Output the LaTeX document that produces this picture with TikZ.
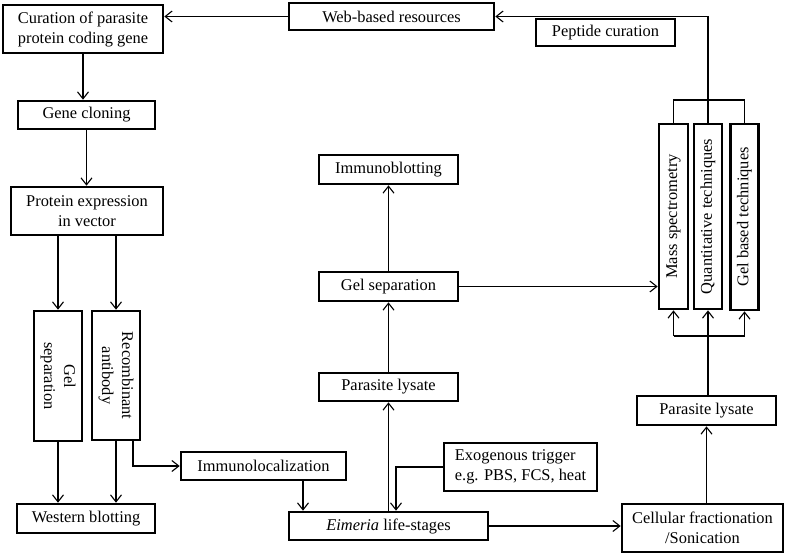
\documentclass[tikz,border=0pt]{standalone}
\usepackage{fontspec}
\setmainfont{Liberation Serif}
\usetikzlibrary{arrows.meta}
\begin{document}
\begin{tikzpicture}[x=1pt,y=-1pt,
  box/.style={draw,line width=2.6pt,inner sep=0pt,align=center,font=\fontsize{16.4}{20}\selectfont},
  lbox/.style={box,align=left},
  txt/.style={inner sep=0pt,align=center,font=\fontsize{16.4}{20}\selectfont},
  conn/.style={line width=1.1pt},
  arr/.style={conn,-{Straight Barb[length=7pt,width=11pt,line width=1.1pt]}}]
\useasboundingbox (0,0) rectangle (785,555);
% boxes
\node[box,minimum width=160,minimum height=48] (cur) at (83,29) {Curation of parasite\\protein coding gene};
\node[box,minimum width=205,minimum height=27] (web) at (391.5,16.5) {Web-based resources};
\node[box,minimum width=139,minimum height=27] (pep) at (605.5,32.5) {Peptide curation};
\node[box,minimum width=137,minimum height=28] (gene) at (86.5,115) {Gene cloning};
\node[box,minimum width=152,minimum height=48] (prot) at (87,211) {Protein expression\\in vector};
\node[box,minimum width=48,minimum height=130] (gsep) at (58,376) {};
\node[txt,rotate=-90] (gsept) at (gsep) {Gel\\separation};
\node[box,minimum width=48,minimum height=129] (rab) at (116,375.5) {};
\node[txt,rotate=-90] (rabt) at (rab) {Recombinant\\antibody};
\node[box,minimum width=138,minimum height=29] (wb) at (86,518.5) {Western blotting};
\node[box,minimum width=165,minimum height=28] (iloc) at (263.5,466) {Immunolocalization};
\node[box,minimum width=199,minimum height=28] (eim) at (388.5,526) {\textit{Eimeria} life-stages};
\node[lbox,minimum width=153,minimum height=48] (exo) at (520.5,467) {Exogenous trigger\\e.g. PBS, FCS, heat};
\node[box,minimum width=161,minimum height=48] (cell) at (702.5,528) {Cellular fractionation\\/Sonication};
\node[box,minimum width=139,minimum height=29] (pl2) at (706.5,410.5) {Parasite lysate};
\node[box,minimum width=139,minimum height=28] (pl1) at (388.5,387) {Parasite lysate};
\node[box,minimum width=139,minimum height=29] (gs1) at (388.5,286.5) {Gel separation};
\node[box,minimum width=139,minimum height=29] (ib) at (388.5,169.5) {Immunoblotting};
\node[box,minimum width=29,minimum height=185] (ms) at (673.5,216.5) {};
\node[txt,rotate=90] (mst) at (ms) {Mass spectrometry};
\node[box,minimum width=28,minimum height=185] (qt) at (708,216.5) {};
\node[txt,rotate=90] (qtt) at (qt) {Quantitative techniques};
\node[box,minimum width=28,minimum height=186] (gb) at (744.5,217) {};
\node[txt,rotate=90] (gbt) at (gb) {Gel based techniques};
% helper coordinates
\coordinate (tb) at (0,100);
\coordinate (bb) at (0,336);
\path ([xshift=17]rab.south) coordinate (r1);
\path ([xshift=39.5]iloc.south) coordinate (i1);
\path ([xshift=7.5]eim.north) coordinate (e1);
% connectors
\draw[arr] (web.west) -- (web.west -| cur.east);
\draw[arr] (qt.north) -- (qt.north |- web.east) -- (web.east);
\draw[conn] (ms.north) -- (ms.north |- tb) -- (gb.north |- tb) -- (gb.north);
\draw[arr] (cur.south) -- (cur.south |- gene.north);
\draw[arr] (gene.south) -- (gene.south |- prot.north);
\draw[arr] (gsep.north |- prot.south) -- (gsep.north);
\draw[arr] (rab.north |- prot.south) -- (rab.north);
\draw[arr] (gsep.south) -- (gsep.south |- wb.north);
\draw[arr] (rab.south) -- (rab.south |- wb.north);
\draw[arr] (r1) |- (iloc.west);
\draw[arr] (i1) -- (i1 |- eim.north);
\draw[arr] (eim.north) -- (pl1.south);
\draw[arr] (exo.west) -| (e1);
\draw[arr] (pl1.north) -- (gs1.south);
\draw[arr] (gs1.north) -- (ib.south);
\draw[arr] (gs1.east) -- (gs1.east -| ms.west);
\draw[arr] (eim.east) -- (eim.east -| cell.west);
\draw[arr] (pl2.south |- cell.north) -- (pl2.south);
\draw[arr] (qt.south |- pl2.north) -- (qt.south);
\draw[conn] (ms.south |- bb) -- (gb.south |- bb);
\draw[arr] (ms.south |- bb) -- (ms.south);
\draw[arr] (gb.south |- bb) -- (gb.south);
\end{tikzpicture}
\end{document}
